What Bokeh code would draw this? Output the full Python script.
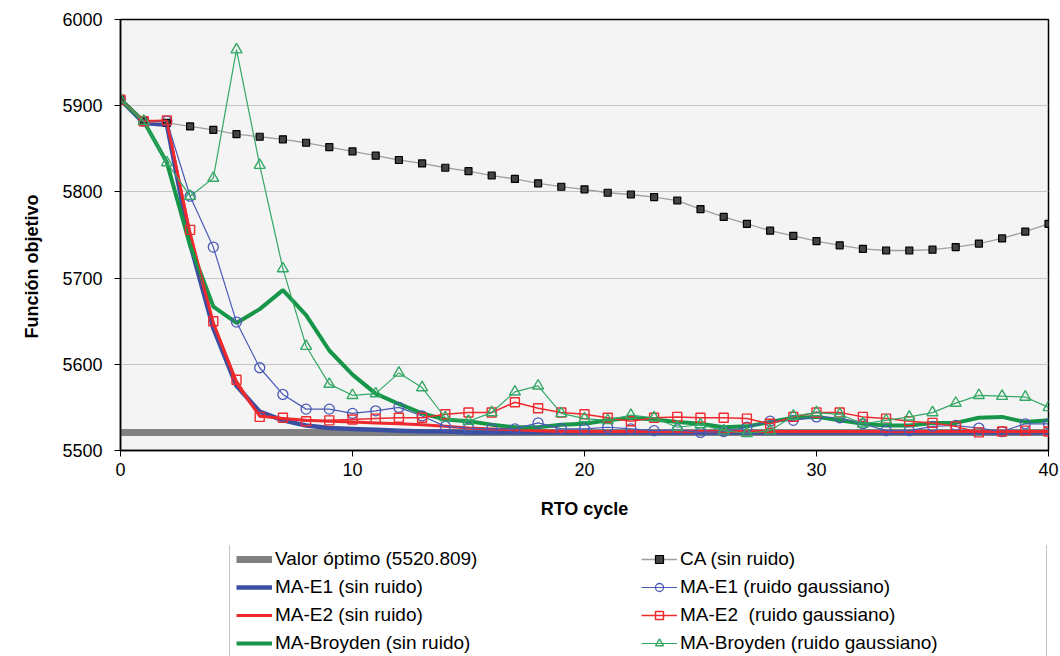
from bokeh.plotting import figure
from bokeh.layouts import column
from bokeh.models import Range1d, FixedTicker, Legend, LegendItem, Title
from bokeh.embed import file_html
from bokeh.resources import INLINE

# ---------------- data ----------------
cycles = list(range(41))
x_ticks = [0, 10, 20, 30, 40]
y_ticks = [5500, 5600, 5700, 5800, 5900, 6000]

valor_optimo = 5520.809
optimo = [valor_optimo] * len(cycles)

ca_sin_ruido = [5907, 5882, 5880, 5876, 5872, 5867, 5864, 5861, 5857, 5852,
                5847, 5842, 5837, 5833, 5828, 5824, 5819, 5815, 5810, 5806,
                5803, 5799, 5797, 5794, 5790, 5780, 5771, 5763, 5755, 5749,
                5743, 5738, 5734, 5732, 5732, 5733, 5736, 5740, 5746, 5754,
                5763]

e1_sin_ruido = [5907, 5880, 5878, 5740, 5642, 5575, 5545, 5535, 5529, 5526,
                5525, 5524, 5523, 5522, 5522, 5521, 5521, 5521, 5521, 5521,
                5521, 5521, 5521, 5521, 5521, 5521, 5521, 5521, 5521, 5521,
                5521, 5521, 5521, 5521, 5521, 5521, 5521, 5521, 5521, 5521,
                5521]

e2_sin_ruido = [5907, 5882, 5882, 5750, 5648, 5578, 5540, 5537, 5535, 5534,
                5533, 5532, 5531, 5530, 5528, 5526, 5525, 5524, 5523, 5522,
                5522, 5522, 5522, 5522, 5522, 5522, 5522, 5522, 5522, 5522,
                5522, 5522, 5522, 5522, 5522, 5522, 5522, 5522, 5522, 5522,
                5522]

broyden_sin_ruido = [5907, 5882, 5834, 5738, 5667, 5648, 5664, 5686, 5657, 5616,
                     5588, 5566, 5554, 5543, 5536, 5534, 5530, 5527, 5527, 5530,
                     5531, 5535, 5538, 5536, 5533, 5531, 5527, 5528, 5533, 5538,
                     5539, 5535, 5531, 5529, 5529, 5532, 5532, 5538, 5539, 5533,
                     5535]

e1_ruido = [5907, 5882, 5882, 5795, 5736, 5649, 5596, 5565, 5548, 5548,
            5543, 5546, 5550, 5540, 5528, 5526, 5525, 5525, 5532, 5525,
            5525, 5527, 5525, 5523, 5524, 5521, 5522, 5527, 5534, 5535,
            5539, 5538, 5531, 5523, 5523, 5528, 5529, 5526, 5522, 5531,
            5531]

e2_ruido = [5907, 5882, 5883, 5756, 5650, 5582, 5539, 5538, 5534, 5535,
            5536, 5537, 5538, 5538, 5542, 5544, 5544, 5556, 5549, 5544,
            5542, 5538, 5534, 5538, 5539, 5538, 5538, 5537, 5531, 5539,
            5544, 5544, 5539, 5537, 5534, 5532, 5528, 5521, 5522, 5523,
            5522]

broyden_ruido = [5907, 5882, 5834, 5795, 5816, 5965, 5831, 5711, 5621, 5577,
                 5564, 5566, 5590, 5573, 5538, 5534, 5544, 5568, 5575, 5543,
                 5537, 5535, 5541, 5538, 5527, 5530, 5523, 5520, 5523, 5540,
                 5544, 5542, 5531, 5535, 5539, 5544, 5555, 5564, 5563, 5562,
                 5550]

labels_col1 = ["Valor óptimo (5520.809)", "MA-E1 (sin ruido)",
               "MA-E2 (sin ruido)", "MA-Broyden (sin ruido)"]
labels_col2 = ["CA (sin ruido)", "MA-E1 (ruido gaussiano)",
               "MA-E2  (ruido gaussiano)", "MA-Broyden (ruido gaussiano)"]

FONT = "Liberation Sans"
BLUE = "#3a4ea2"
RED = "#ee2a2e"
GREEN = "#17964a"
GREEN_L = "#34a865"
BLUE_L = "#4a5ab4"


def draw_series(fig, legend_markers=False):
    """Draw every series on fig; return the renderers for the legend."""
    k = 0.7 if legend_markers else 1.0
    r = {}
    r["opt"] = [fig.line(cycles, optimo, line_color="#808080", line_width=7)]
    r["e1"] = [fig.line(cycles, e1_sin_ruido, line_color=BLUE, line_width=4.5)]
    r["e2"] = [fig.line(cycles, e2_sin_ruido, line_color=RED, line_width=3)]
    r["br"] = [fig.line(cycles, broyden_sin_ruido, line_color=GREEN, line_width=4)]
    r["ca"] = [fig.line(cycles, ca_sin_ruido, line_color="#a0a0a0", line_width=1.3),
               fig.scatter(cycles, ca_sin_ruido, marker="square", size=7 * k,
                           fill_color="#444444", line_color="black", line_width=1.2)]
    r["e1r"] = [fig.line(cycles, e1_ruido, line_color=BLUE_L, line_width=1.2),
                fig.scatter(cycles, e1_ruido, marker="circle", size=10 * k,
                            fill_color=None, line_color=BLUE_L, line_width=1.3)]
    r["e2r"] = [fig.line(cycles, e2_ruido, line_color=RED, line_width=1.5),
                fig.scatter(cycles, e2_ruido, marker="square", size=9 * k,
                            fill_color=None, line_color=RED, line_width=1.4)]
    r["brr"] = [fig.line(cycles, broyden_ruido, line_color=GREEN_L, line_width=1.2),
                fig.scatter(cycles, broyden_ruido, marker="triangle", size=11 * k,
                            fill_color=None, line_color=GREEN_L, line_width=1.4)]
    return r


# ---------------- main chart ----------------
p = figure(width=1060, height=545,
           x_range=Range1d(0, 40), y_range=Range1d(5500, 6000),
           output_backend="svg", toolbar_location=None,
           min_border_left=120, min_border_right=12,
           min_border_top=19, min_border_bottom=95)

p.background_fill_color = "#f4f4f4"
p.border_fill_color = "white"
p.outline_line_color = "black"
p.outline_line_width = 1.5

p.xgrid.visible = False
p.ygrid.grid_line_color = "#c4c4c4"
p.ygrid.grid_line_width = 1

p.xaxis.ticker = FixedTicker(ticks=x_ticks)
p.yaxis.ticker = FixedTicker(ticks=y_ticks)
for ax in (p.xaxis, p.yaxis):
    ax.axis_line_color = "black"
    ax.axis_line_width = 1.5
    ax.major_tick_line_color = "black"
    ax.major_tick_in = 0
    ax.major_tick_out = 6
    ax.minor_tick_line_color = None
    ax.major_label_text_font = FONT
    ax.major_label_text_font_size = "18px"
    ax.major_label_text_color = "black"
p.xaxis.major_label_standoff = 6
p.yaxis.major_label_standoff = 12

p.xaxis.axis_label = "RTO cycle"
p.xaxis.axis_label_text_font = FONT
p.xaxis.axis_label_text_font_size = "18px"
p.xaxis.axis_label_text_font_style = "bold"
p.xaxis.axis_label_text_color = "black"
p.xaxis.axis_label_standoff = 20

ytitle = Title(text="Función objetivo", align="left", offset=112,
               text_font=FONT, text_font_size="18px", text_font_style="bold",
               text_color="black", standoff=36)
p.add_layout(ytitle, "left")

draw_series(p)

# ---------------- legend strip ----------------
lg = figure(width=1060, height=111,
            x_range=Range1d(-20, -10), y_range=Range1d(0, 1),
            output_backend="svg", toolbar_location=None,
            x_axis_type=None, y_axis_type=None,
            min_border_left=0, min_border_right=0,
            min_border_top=0, min_border_bottom=0)
lg.xgrid.visible = False
lg.ygrid.visible = False
lg.outline_line_color = None
lg.background_fill_color = "white"
lg.border_fill_color = "white"

rl = draw_series(lg, legend_markers=True)

items = [
    LegendItem(label=labels_col1[0], renderers=rl["opt"]),
    LegendItem(label=labels_col1[1], renderers=rl["e1"]),
    LegendItem(label=labels_col1[2], renderers=rl["e2"]),
    LegendItem(label=labels_col1[3], renderers=rl["br"]),
    LegendItem(label=labels_col2[0], renderers=rl["ca"]),
    LegendItem(label=labels_col2[1], renderers=rl["e1r"]),
    LegendItem(label=labels_col2[2], renderers=rl["e2r"]),
    LegendItem(label=labels_col2[3], renderers=rl["brr"]),
]
legend = Legend(items=items, orientation="vertical", ncols=2,
                location=(109, -5), margin=0, padding=6, spacing=6,
                glyph_width=36, glyph_height=20, label_height=20,
                label_width=360, label_standoff=3,
                label_text_font=FONT, label_text_font_size="19px",
                label_text_color="black",
                border_line_color="#8c8c8c", border_line_width=1,
                background_fill_color="white", background_fill_alpha=1)
lg.add_layout(legend, "center")

layout = column(p, lg, spacing=0)
open("out.html", "w").write(file_html(layout, INLINE))
